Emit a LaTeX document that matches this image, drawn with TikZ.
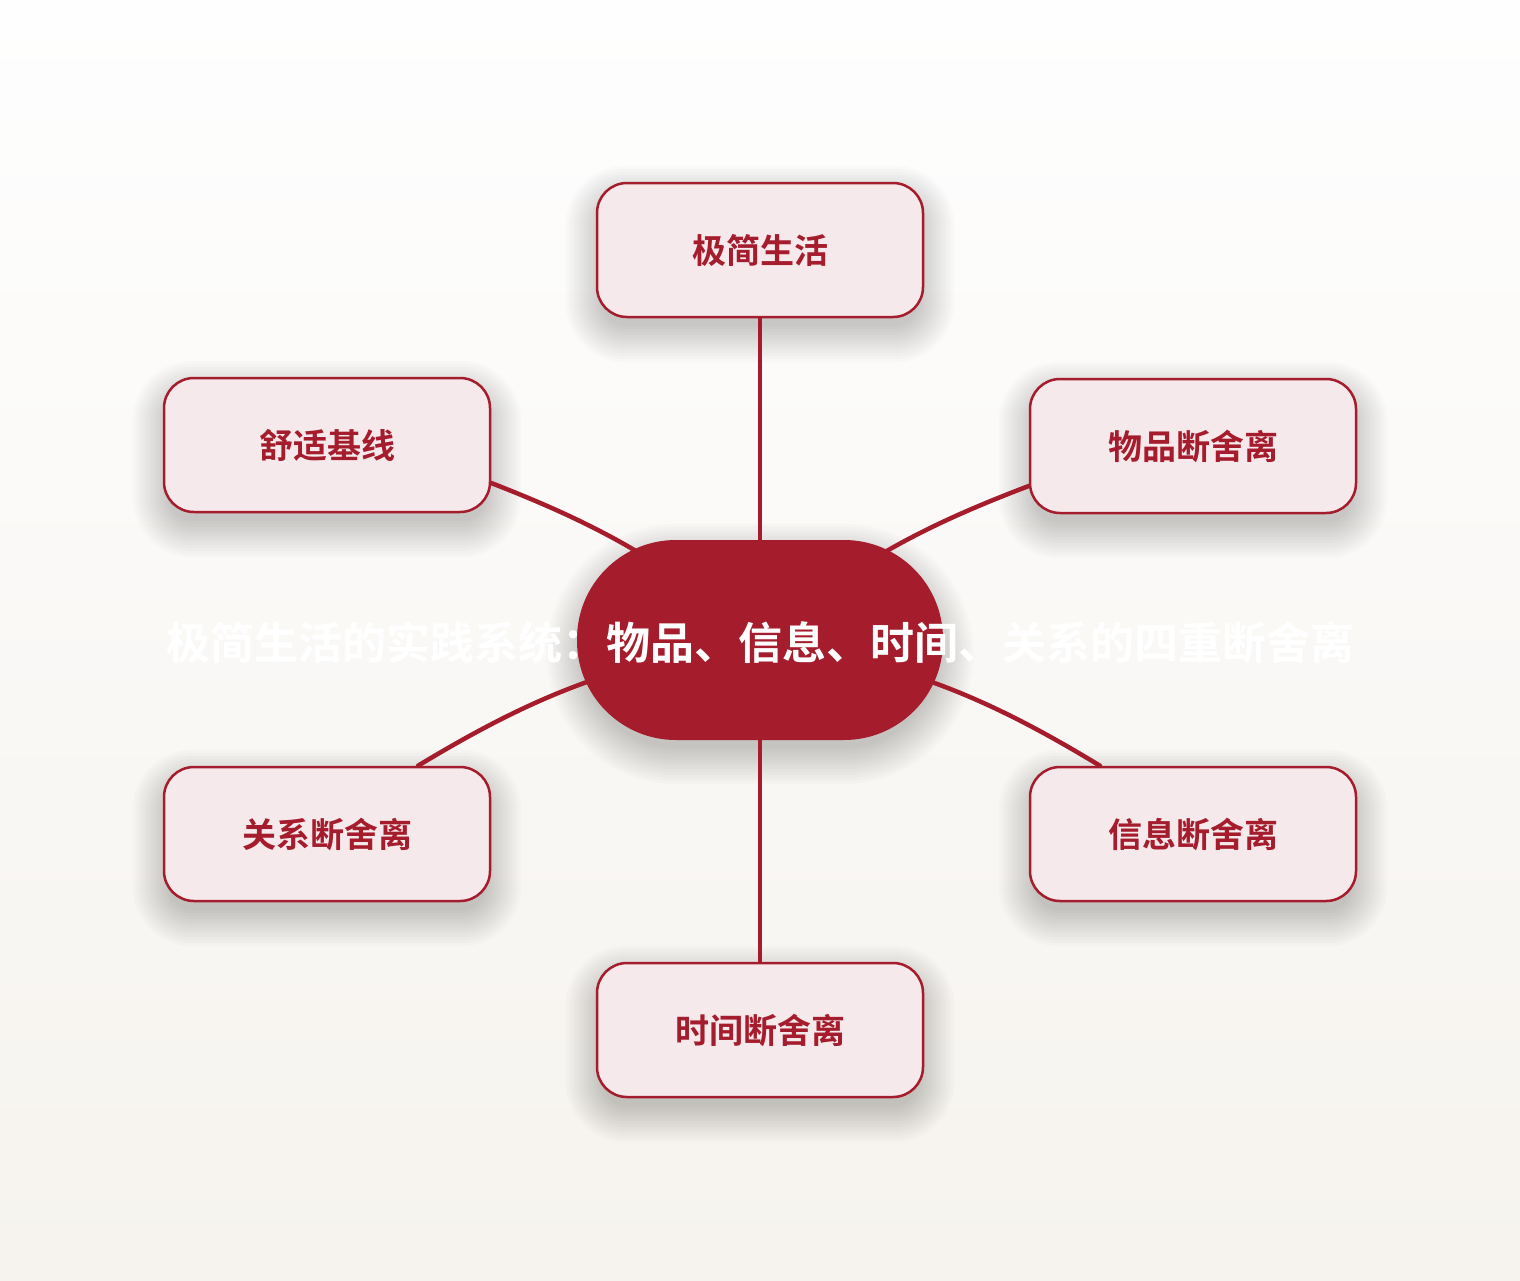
\documentclass[tikz,border=0pt]{standalone}
\usepackage{fontspec}
\setmainfont{Noto Sans CJK SC}[BoldFont={Noto Sans CJK SC Bold}]
\usetikzlibrary{calc}
\definecolor{deepred}{HTML}{A51C2C}
\definecolor{boxfill}{HTML}{F5E9EC}
\definecolor{bgtop}{HTML}{FEFEFE}
\definecolor{bgbot}{HTML}{F6F3EE}
\pgfdeclarelayer{bglayer}
\pgfdeclarelayer{shadowlayer}
\pgfdeclarelayer{linelayer}
\pgfsetlayers{bglayer,shadowlayer,linelayer,main}
\tikzset{
  leafbox/.style={draw=deepred, line width=2.5pt, fill=boxfill, rounded corners=30pt,
    minimum width=326pt, minimum height=134pt, text=deepred,
    font=\bfseries\fontsize{34pt}{40pt}\selectfont},
  hubbox/.style={fill=deepred, draw=none, rounded corners=99pt,
    minimum width=366pt, minimum height=200pt},
  hubtext/.style={text=white, font=\bfseries\fontsize{44pt}{50pt}\selectfont, inner sep=0pt},
  link/.style={draw=deepred, line width=4.5pt, line cap=round},
  shadowstep/.style={fill=black, opacity=0.014}
}
% soft shadow: #1 node name, #2 base corner radius
\newcommand\mysoftshadow[2]{%
  \foreach \s in {-6,-3,...,30}{%
    \fill[shadowstep, rounded corners={#2+\s}]
      ($(#1.south west)+(-\s,\s+14)$) rectangle ($(#1.north east)+(\s,-\s+14)$);
  }%
}
\begin{document}
\begin{tikzpicture}[x=1pt,y=-1pt]
\begin{pgfonlayer}{bglayer}
\shade[top color=bgtop, bottom color=bgbot] (0,0) rectangle (1520,1280);
\end{pgfonlayer}
\useasboundingbox (0,0) rectangle (1520,1280);

\node[hubbox] (hub) at (760,640) {};
\node[hubtext] (hubt) at (760,643) {极简生活的实践系统：物品、信息、时间、关系的四重断舍离};

\node[leafbox] (top) at (760,250) {极简生活};
\node[leafbox] (ul) at (327,445) {舒适基线};
\node[leafbox] (ur) at (1193,446) {物品断舍离};
\node[leafbox] (ll) at (327,834) {关系断舍离};
\node[leafbox] (lr) at (1193,834) {信息断舍离};
\node[leafbox] (bot) at (760,1030) {时间断舍离};

\begin{pgfonlayer}{shadowlayer}
\mysoftshadow{hub}{99}
\mysoftshadow{top}{30}
\mysoftshadow{ul}{30}
\mysoftshadow{ur}{30}
\mysoftshadow{ll}{30}
\mysoftshadow{lr}{30}
\mysoftshadow{bot}{30}
\end{pgfonlayer}

\begin{pgfonlayer}{linelayer}
\draw[link] (top.south) -- (hub.center);
\draw[link] (bot.north) -- (hub.center);
\draw[link] ($(ul.east)+(0,38)$) to[bend left=9] (hub.center);
\draw[link] ($(ur.west)+(0,40)$) to[bend right=9] (hub.center);
\draw[link] ($(ll.north)+(91,0)$) to[bend left=11] (hub.center);
\draw[link] ($(lr.north)+(-93,0)$) to[bend right=11] (hub.center);
\end{pgfonlayer}
\end{tikzpicture}
\end{document}
